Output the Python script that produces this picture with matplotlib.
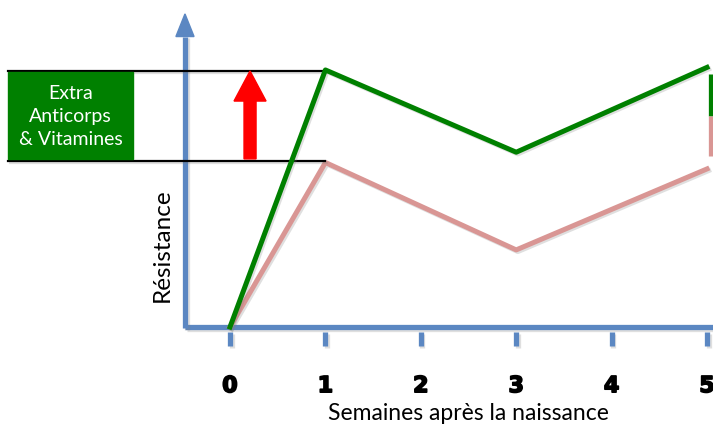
import matplotlib
matplotlib.use("Agg")
import matplotlib.pyplot as plt
import matplotlib.patheffects as pe
from matplotlib.patches import Polygon, Rectangle

# Data
weeks = [0, 1, 3, 5]
with_extra = [0, 10.0, 6.8, 10.1]      # green
without_extra = [0, 6.4, 3.0, 6.15]    # pink
tick_labels = ["0", "1", "2", "3", "4", "5"]
tick_pos = [0, 1, 2, 3, 4, 5]

GREEN = "#008000"
PINK = "#d99694"
BLUE = "#5b87c2"

fig = plt.figure(figsize=(7.13, 4.27), dpi=100)
ax = fig.add_axes([0, 0, 1, 1])
ax.set_xlim(-2.411, 5.063)
ax.set_ylim(-3.85, 12.76)
ax.axis("off")

shadow = [pe.SimpleLineShadow(offset=(1.2, -1.2), shadow_color="gray", alpha=0.25), pe.Normal()]

# axes lines
ax.plot([-0.472, 5.1], [0, 0], color=BLUE, lw=3.8, solid_capstyle="butt", path_effects=shadow, zorder=2)
ax.plot([-0.472, -0.472], [-0.05, 11.3], color=BLUE, lw=3.8, solid_capstyle="butt", path_effects=shadow, zorder=2)
ax.add_patch(Polygon([[-0.472, 12.18], [-0.472 - 0.095, 11.3], [-0.472 + 0.095, 11.3]],
                     closed=True, color=BLUE, zorder=2))
for t in tick_pos:
    ax.plot([t, t], [-0.19, -0.74], color=BLUE, lw=3.8, solid_capstyle="butt", path_effects=shadow, zorder=2)
    ax.text(t, -2.30, tick_labels[t], ha="center", va="center", fontsize=16,
            fontweight="heavy", family="DejaVu Sans", color="black",
            path_effects=[pe.withStroke(linewidth=1.2, foreground="black")])

ax.text(2.5, -3.31, "Semaines après la naissance", ha="center", va="center",
        fontsize=16.5, family="Lato")
ax.text(-0.713, 3.23, "Résistance", ha="center", va="center", rotation=90,
        fontsize=17.5, family="Lato")

# data lines
ax.plot(weeks, without_extra, color=PINK, lw=3.6, path_effects=shadow, zorder=3)
ax.plot(weeks, with_extra, color=GREEN, lw=3.6, path_effects=shadow, zorder=4)

# right edge bar
ax.plot([5.042, 5.042], [9.84, 8.21], color=GREEN, lw=3.8, solid_capstyle="butt", zorder=4)
ax.plot([5.042, 5.042], [8.21, 6.65], color=PINK, lw=3.8, solid_capstyle="butt", zorder=4)

# reference black lines
ax.plot([-2.327, 1.0], [9.96, 9.96], color="black", lw=1.6, path_effects=shadow, zorder=3)
ax.plot([-2.327, 1.0], [6.46, 6.46], color="black", lw=1.6, path_effects=shadow, zorder=3)

# green box
ax.add_patch(Rectangle((-2.327, 6.54), 1.31, 3.38, color=GREEN, zorder=3))
ax.text(-1.672, 8.23, "Extra\nAnticorps\n& Vitamines", ha="center", va="center",
        color="white", fontsize=14, family="Lato", linespacing=1.45, zorder=4)

# red arrow
cx = 0.21
ax.add_patch(Polygon([[cx - 0.063, 6.54], [cx - 0.063, 8.79], [cx - 0.168, 8.79], [cx, 9.96],
                      [cx + 0.168, 8.79], [cx + 0.063, 8.79], [cx + 0.063, 6.54]],
                     closed=True, color="#ff0000", zorder=4))

fig.savefig("out.png", dpi=100)
